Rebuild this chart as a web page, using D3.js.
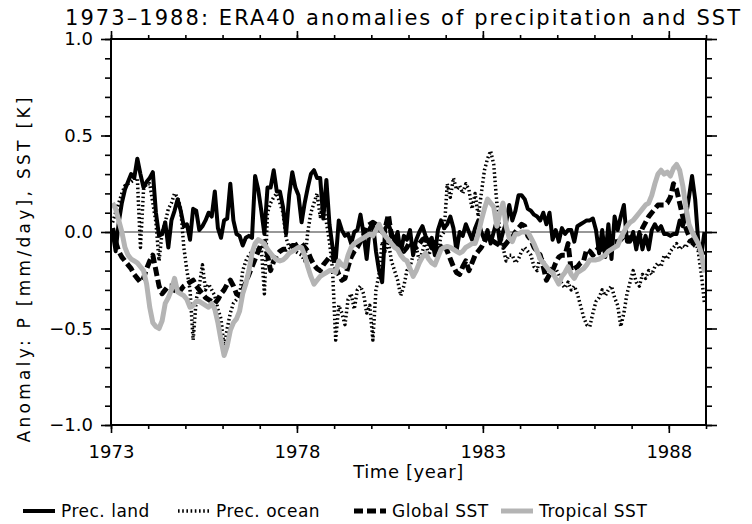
<!DOCTYPE html>
<html><head><meta charset="utf-8">
<script src="https://cdn.jsdelivr.net/npm/d3@7"></script>
<style>
body{margin:0;background:#fff}
svg{display:block}
text{font-family:"DejaVu Sans",sans-serif;fill:#000}
</style>
</head><body>
<svg id="chart" width="752" height="524"></svg>
<script>
const titleText = "1973\u20131988: ERA40 anomalies of precipitation and SST";
const xLabel = "Time [year]";
const yLabel = "Anomaly: P [mm/day], SST [K]";
const startYear = 1973, endYear = 1989;
const xMajorTicks = [1973, 1978, 1983, 1988];
const yMajorTicks = [-1.0, -0.5, 0.0, 0.5, 1.0];
const yTickLabels = ["\u22121.0", "\u22120.5", "0.0", "0.5", "1.0"];
const seriesNames = ["Prec. land", "Prec. ocean", "Global SST", "Tropical SST"];

// monthly anomalies, Jan 1973 .. Dec 1988
const precLand = [
 0.00,-0.10, 0.05, 0.15, 0.22, 0.26, 0.30, 0.28, 0.38, 0.30,
 0.23, 0.26, 0.28, 0.31, 0.10,-0.02,-0.01, 0.05,-0.08, 0.06,
 0.11, 0.17, 0.11, 0.03, 0.04,-0.04, 0.12, 0.11, 0.01, 0.03,
 0.06, 0.10, 0.08, 0.21, 0.02,-0.03, 0.06, 0.07, 0.25, 0.06,
-0.01,-0.02,-0.07,-0.03,-0.02,-0.03, 0.29, 0.22, 0.11,-0.01,
 0.23, 0.23, 0.32, 0.21, 0.21, 0.13,-0.01, 0.19, 0.31, 0.23,
 0.19, 0.05, 0.15, 0.23, 0.30, 0.32, 0.28, 0.28, 0.07, 0.27,
 0.04,-0.08,-0.15, 0.06, 0.01,-0.02,-0.01,-0.06, 0.00, 0.01,
 0.09,-0.01,-0.14, 0.02, 0.05,-0.10,-0.20,-0.26, 0.02, 0.04,
 0.00,-0.05, 0.00,-0.11,-0.02,-0.04, 0.01,-0.12,-0.04, 0.00,
 0.03,-0.02,-0.05,-0.03,-0.12, 0.01, 0.06, 0.02, 0.04, 0.08,
 0.02,-0.10, 0.00,-0.02, 0.04, 0.00,-0.04, 0.02, 0.06, 0.00,
-0.04, 0.01,-0.06, 0.00, 0.06,-0.06, 0.00, 0.05, 0.14, 0.06,
 0.11, 0.19, 0.19, 0.17, 0.12, 0.11, 0.09, 0.08, 0.06, 0.10,
 0.04, 0.10,-0.04, 0.01,-0.05, 0.02,-0.01, 0.01, 0.01,-0.05,
 0.03, 0.04, 0.05, 0.06, 0.06, 0.07, 0.01,-0.11, 0.01,-0.13,
 0.04,-0.14, 0.08, 0.01, 0.08, 0.14,-0.05,-0.05, 0.00,-0.09,
 0.00,-0.09,-0.02,-0.09, 0.01, 0.04, 0.01, 0.03,-0.01,-0.01,
-0.02,-0.01,-0.01, 0.06, 0.03, 0.08, 0.18, 0.29, 0.17,-0.05,
-0.12, 0.00];

const precOcean = [
 0.05, 0.10, 0.15, 0.20, 0.24, 0.25, 0.26, 0.27, 0.28,-0.08,
 0.22, 0.25, 0.25, 0.15, 0.05,-0.15, 0.00, 0.05, 0.12, 0.15,
 0.20, 0.18, 0.12,-0.08,-0.20,-0.30,-0.56,-0.35,-0.28,-0.17,
-0.30,-0.27,-0.30,-0.33,-0.40,-0.45,-0.60,-0.50,-0.42,-0.37,
-0.35,-0.33,-0.20,-0.15,-0.12,-0.10,-0.10,-0.09,-0.08,-0.32,
 0.10, 0.15, 0.18, 0.20, 0.15, 0.10,-0.03,-0.08,-0.09,-0.10,
-0.11,-0.12,-0.15, 0.00, 0.10, 0.15, 0.20, 0.08, 0.15, 0.05,
-0.05,-0.20,-0.56,-0.38,-0.42,-0.48,-0.35,-0.32,-0.40,-0.30,
-0.28,-0.32,-0.42,-0.38,-0.56,-0.30,-0.22,-0.05,-0.10,-0.05,
-0.15,-0.20,-0.25,-0.33,-0.28,-0.20,-0.18,-0.12,-0.08,-0.15,
-0.10,-0.05,-0.12,-0.08,-0.05,-0.10,-0.02, 0.00, 0.25, 0.18,
 0.28, 0.22, 0.24, 0.20, 0.25, 0.22, 0.12, 0.20, 0.08, 0.20,
 0.32, 0.38, 0.42, 0.35, 0.15, 0.00,-0.08,-0.15,-0.12,-0.12,
-0.16,-0.14,-0.10,-0.08,-0.10,-0.12,-0.18,-0.20,-0.12,-0.15,
-0.19,-0.20,-0.18,-0.19,-0.22,-0.27,-0.29,-0.26,-0.30,-0.28,
-0.32,-0.38,-0.44,-0.48,-0.49,-0.42,-0.36,-0.34,-0.30,-0.33,
-0.30,-0.28,-0.34,-0.38,-0.49,-0.42,-0.32,-0.26,-0.20,-0.26,
-0.28,-0.22,-0.24,-0.20,-0.22,-0.18,-0.16,-0.18,-0.12,-0.14,
-0.10,-0.08,-0.06,-0.09,-0.07,-0.08,-0.05,-0.06,-0.04,-0.10,
-0.22,-0.37];

const globalSST = [
 0.02,-0.05,-0.10,-0.13,-0.15,-0.17,-0.19,-0.22,-0.24,-0.26,
-0.24,-0.19,-0.15,-0.12,-0.20,-0.28,-0.32,-0.30,-0.28,-0.28,
-0.30,-0.32,-0.30,-0.28,-0.27,-0.26,-0.25,-0.28,-0.30,-0.32,
-0.34,-0.35,-0.36,-0.37,-0.35,-0.32,-0.30,-0.27,-0.25,-0.28,
-0.32,-0.33,-0.30,-0.26,-0.22,-0.18,-0.14,-0.10,-0.06,-0.05,
-0.12,-0.20,-0.15,-0.12,-0.10,-0.09,-0.09,-0.08,-0.07,-0.07,
-0.06,-0.06,-0.08,-0.10,-0.14,-0.17,-0.19,-0.20,-0.17,-0.15,
-0.13,-0.12,-0.18,-0.22,-0.25,-0.24,-0.18,-0.13,-0.10,-0.08,
-0.05,-0.02, 0.03, 0.04, 0.05, 0.04, 0.02, 0.00, 0.02, 0.09,
-0.02,-0.04,-0.06,-0.08,-0.10,-0.08,-0.05,-0.07,-0.08,-0.06,
-0.04,-0.03,-0.05,-0.08,-0.10,-0.09,-0.08,-0.06,-0.10,-0.14,
-0.18,-0.21,-0.22,-0.18,-0.15,-0.20,-0.16,-0.12,-0.10,-0.08,
-0.05,-0.02,-0.04,-0.05,-0.06,-0.07,-0.08,-0.06,-0.04,-0.03,
 0.00, 0.02, 0.04, 0.03,-0.02,-0.04,-0.08,-0.10,-0.12,-0.18,
-0.25,-0.22,-0.20,-0.16,-0.13,-0.12,-0.12,-0.06,-0.20,-0.19,
-0.18,-0.16,-0.15,-0.09,-0.10,-0.12,-0.10,-0.08,-0.09,-0.10,
-0.07,-0.05,-0.05,-0.05,-0.04,-0.02,-0.03,-0.03,-0.04,-0.05,
-0.02, 0.02, 0.05, 0.08, 0.10, 0.12, 0.14, 0.14, 0.14, 0.15,
 0.18, 0.25, 0.22, 0.15, 0.08, 0.02,-0.02,-0.05,-0.07,-0.08,
-0.10,-0.12];

const tropicalSST = [
 0.15, 0.12, 0.06, 0.00,-0.08,-0.12,-0.14,-0.15,-0.16,-0.18,
-0.20,-0.27,-0.39,-0.47,-0.49,-0.50,-0.46,-0.37,-0.34,-0.30,
-0.24,-0.31,-0.32,-0.33,-0.35,-0.39,-0.38,-0.36,-0.36,-0.37,
-0.38,-0.39,-0.37,-0.40,-0.47,-0.56,-0.64,-0.59,-0.51,-0.47,
-0.45,-0.41,-0.32,-0.27,-0.20,-0.11,-0.06,-0.04,-0.05,-0.06,
-0.09,-0.11,-0.13,-0.145,-0.15,-0.145,-0.13,-0.11,-0.10,-0.09,
-0.08,-0.08,-0.12,-0.18,-0.23,-0.27,-0.25,-0.23,-0.22,-0.21,
-0.20,-0.20,-0.21,-0.15,-0.17,-0.18,-0.12,-0.08,-0.06,-0.05,
-0.04,-0.03,-0.02,-0.01,-0.02, 0.01, 0.04, 0.00,-0.02,-0.04,
-0.06,-0.08,-0.09,-0.12,-0.14,-0.15,-0.19,-0.23,-0.20,-0.16,
-0.13,-0.11,-0.14,-0.16,-0.17,-0.13,-0.09,-0.08,-0.075,-0.08,
-0.09,-0.10,-0.11,-0.10,-0.08,-0.07,-0.06,-0.06,-0.01, 0.06,
 0.12, 0.17, 0.15, 0.13, 0.03, 0.10, 0.15, 0.03,-0.03,-0.05,
-0.01,-0.01, 0.00, 0.00, 0.00,-0.03,-0.06,-0.10,-0.14,-0.16,
-0.18,-0.20,-0.21,-0.24,-0.27,-0.23,-0.21,-0.18,-0.22,-0.24,
-0.21,-0.20,-0.19,-0.17,-0.145,-0.145,-0.145,-0.14,-0.13,-0.12,
-0.10,-0.09,-0.08,-0.07,-0.03, 0.00, 0.03, 0.05, 0.06, 0.08,
 0.10, 0.12, 0.14, 0.15, 0.19, 0.25, 0.30, 0.32, 0.30, 0.31,
 0.29, 0.33, 0.35, 0.32, 0.24, 0.13, 0.04, 0.00,-0.03,-0.06,
-0.11,-0.21];

const svg = d3.select("#chart");
const L = 111, R = 706, T = 39, B = 425;
const x = d3.scaleLinear().domain([startYear, endYear]).range([L, R]);
const y = d3.scaleLinear().domain([-1, 1]).range([B, T]);

svg.append("rect").attr("width", 752).attr("height", 524).attr("fill", "#fff");

// title
svg.append("text").attr("x", 65).attr("y", 25)
  .attr("font-size", 21).attr("textLength", 675).attr("lengthAdjust", "spacing")
  .text(titleText);

// clip
svg.append("clipPath").attr("id", "clip").append("rect")
  .attr("x", L).attr("y", T).attr("width", R - L).attr("height", B - T);

// zero line
svg.append("line").attr("x1", L).attr("x2", R).attr("y1", y(0)).attr("y2", y(0))
  .attr("stroke", "#333").attr("stroke-width", 1.2);

const monthYear = i => startYear + (i + 0.5) / 12;
const line = d3.line().x((d, i) => x(monthYear(i))).y(d => y(d));

const styles = [
  {data: precLand,   stroke: "#000",    width: 4,   dash: null},
  {data: precOcean,  stroke: "#000",    width: 3.5, dash: "1.6 2.6"},
  {data: globalSST,  stroke: "#000",    width: 5,   dash: "9 4"},
  {data: tropicalSST,stroke: "#b4b4b4", width: 5,   dash: null}
];
const g = svg.append("g").attr("clip-path", "url(#clip)");
styles.forEach(s => {
  g.append("path").datum(s.data).attr("d", line)
    .attr("fill", "none").attr("stroke", s.stroke).attr("stroke-width", s.width)
    .attr("stroke-dasharray", s.dash).attr("stroke-linejoin", "round");
});

// axes
function styleAxis(sel) {
  sel.select(".domain").remove();
  sel.selectAll(".tick line").attr("stroke", "#000").attr("stroke-width", 1.6);
  sel.selectAll("text").attr("font-size", 18).attr("font-family", "DejaVu Sans, sans-serif").attr("fill", "#000");
}
const years = d3.range(startYear, endYear + 1);
const yMinor = d3.range(-10, 11).map(v => v / 10);

svg.append("g").attr("transform", `translate(0,${B})`)
  .call(d3.axisBottom(x).tickValues(years).tickSize(4).tickFormat("")).call(styleAxis);
svg.append("g").attr("transform", `translate(0,${B})`)
  .call(d3.axisBottom(x).tickValues(xMajorTicks).tickSize(8).tickPadding(12).tickFormat(d3.format("d"))).call(styleAxis);
svg.append("g").attr("transform", `translate(0,${T})`)
  .call(d3.axisTop(x).tickValues(years).tickSize(4).tickFormat("")).call(styleAxis);
svg.append("g").attr("transform", `translate(0,${T})`)
  .call(d3.axisTop(x).tickValues(xMajorTicks).tickSize(8).tickFormat("")).call(styleAxis);

svg.append("g").attr("transform", `translate(${L},0)`)
  .call(d3.axisLeft(y).tickValues(yMinor).tickSize(6).tickFormat("")).call(styleAxis);
svg.append("g").attr("transform", `translate(${L},0)`)
  .call(d3.axisLeft(y).tickValues(yMajorTicks).tickSize(10).tickPadding(8)
    .tickFormat((d, i) => yTickLabels[i])).call(styleAxis);
svg.append("g").attr("transform", `translate(${R},0)`)
  .call(d3.axisRight(y).tickValues(yMinor).tickSize(6).tickFormat("")).call(styleAxis);
svg.append("g").attr("transform", `translate(${R},0)`)
  .call(d3.axisRight(y).tickValues(yMajorTicks).tickSize(11).tickFormat("")).call(styleAxis);

// frame
svg.append("rect").attr("x", L).attr("y", T).attr("width", R - L).attr("height", B - T)
  .attr("fill", "none").attr("stroke", "#000").attr("stroke-width", 2);

// axis titles
svg.append("text").attr("x", (L + R) / 2).attr("y", 478).attr("text-anchor", "middle")
  .attr("font-size", 18).attr("letter-spacing", 0.6).text(xLabel);
svg.append("text").attr("transform", `translate(30,270) rotate(-90)`)
  .attr("text-anchor", "middle").attr("font-size", 17)
  .attr("textLength", 345).attr("lengthAdjust", "spacing").text(yLabel);

// legend
const legendX = [23, 178, 354, 501];
const lg = svg.append("g");
styles.forEach((s, i) => {
  const lx = legendX[i];
  lg.append("line").attr("x1", lx).attr("x2", lx + 32).attr("y1", 511).attr("y2", 511)
    .attr("stroke", s.stroke).attr("stroke-width", s.width).attr("stroke-dasharray", s.dash);
  lg.append("text").attr("x", lx + 38).attr("y", 517).attr("font-size", 17)
    .attr("letter-spacing", 0.5).text(seriesNames[i]);
});
</script>
</body></html>
